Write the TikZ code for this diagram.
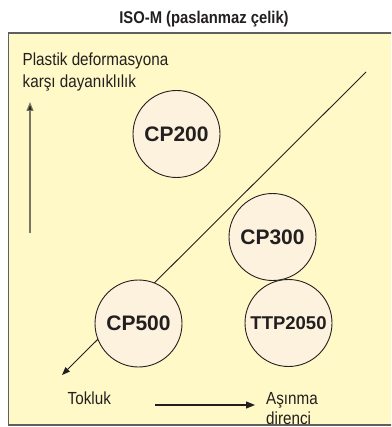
\documentclass[tikz,border=0pt]{standalone}
\usepackage{fontspec}
\setmainfont[FakeStretch=0.87]{Liberation Sans}
\newfontfamily\circfont{Liberation Sans}
\usetikzlibrary{arrows.meta}
\definecolor{bgyellow}{RGB}{255,249,199}
\definecolor{circfill}{RGB}{253,242,221}
\definecolor{boxline}{RGB}{95,95,95}
\definecolor{axisline}{RGB}{120,118,95}
\definecolor{ink}{RGB}{35,31,32}
\tikzset{
  lbl/.style={font=\fontsize{17.5}{21}\selectfont, inner sep=0pt, anchor=base west, text=ink},
  cpcircle/.style={circle, draw=ink, line width=0.9pt, fill=circfill, minimum size=87pt,
    inner sep=0pt, font=\circfont\bfseries\fontsize{21}{24}\selectfont, text=ink},
  axisarrow/.style={draw=axisline, line width=1.2pt, -{Triangle[length=9pt,width=7pt]}, ink},
  diagarrow/.style={draw=ink, line width=0.9pt, -{Triangle[length=8pt,width=6pt]}},
}
\begin{document}
\begin{tikzpicture}[x=1pt,y=-1pt]
  \useasboundingbox (0,0) rectangle (391,427);
  \clip (0,0) rectangle (391,427);
  % frame
  \draw[boxline, line width=1.6pt, fill=bgyellow] (8.5,33) rectangle (400,425);
  % title
  \node[font=\bfseries\fontsize{17}{20}\selectfont, inner sep=0pt, anchor=base, text=ink] (title) at (204,24) {ISO-M (paslanmaz çelik)};
  % labels
  \node[lbl] (plast1) at (22.5,66) {Plastik deformasyona};
  \node[lbl] (plast2) at (22.5,87.5) {karşı dayanıklılık};
  \node[lbl] (tok) at (67.5,404) {Tokluk};
  \node[lbl] (asin1) at (266,404) {Aşınma};
  \node[lbl] (asin2) at (266,424.5) {direnci};
  % axis arrows
  \coordinate (vbot) at (30,233);
  \coordinate (vtop) at (30,102);
  \coordinate (hl) at (155,405);
  \coordinate (hr) at (255,405);
  \draw[draw=axisline, line width=1.2pt, -{Triangle[length=9pt,width=7pt,fill=ink]}] (vbot) -- (vtop);
  \draw[draw=ink, line width=1.1pt, -{Triangle[length=9pt,width=7pt,fill=ink]}] (hl) -- (hr);
  % diagonal
  \coordinate (dtop) at (366,72);
  \coordinate (dbot) at (62,375);
  \draw[diagarrow] (dtop) -- (dbot);
  % circles
  \node[cpcircle] (cp200) at (176.5,134) {CP200};
  \node[cpcircle] (cp300) at (272.5,237) {CP300};
  \node[cpcircle, font=\circfont\bfseries\fontsize{18.5}{22}\selectfont] (ttp) at (288.5,323) {TTP2050};
  \node[cpcircle] (cp500) at (138.5,323.5) {CP500};
\end{tikzpicture}
\end{document}
